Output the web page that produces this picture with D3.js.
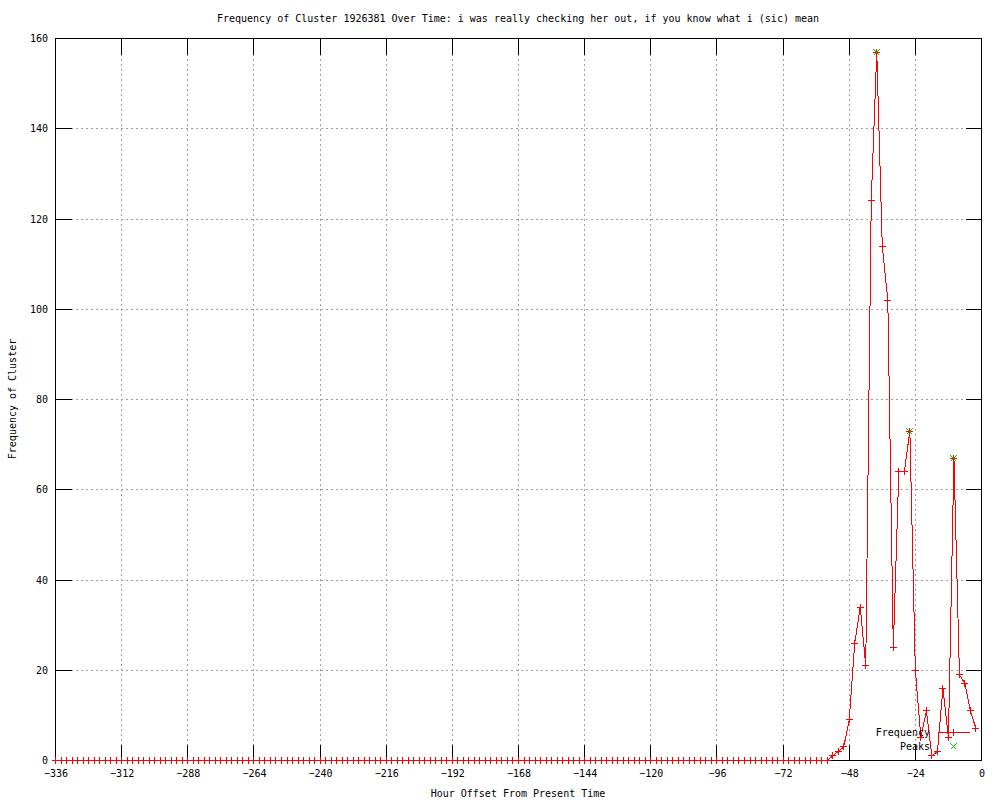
<!DOCTYPE html>
<html>
<head>
<meta charset="utf-8">
<script src="https://cdn.jsdelivr.net/npm/d3@7"></script>
<style>
  body { margin: 0; background: #fff; }
  svg { display: block; }
  text { font-family: "DejaVu Sans Mono", monospace; font-size: 10px; fill: #000; }
</style>
</head>
<body>
<div id="chart"></div>
<script>
// Hours (offset from present) and cluster frequency, one point every 2 hours
var hours = [
  -336,-334,-332,-330,-328,-326,-324,-322,-320,-318,-316,-314,-312,-310,-308,-306,-304,-302,-300,-298,
  -296,-294,-292,-290,-288,-286,-284,-282,-280,-278,-276,-274,-272,-270,-268,-266,-264,-262,-260,-258,
  -256,-254,-252,-250,-248,-246,-244,-242,-240,-238,-236,-234,-232,-230,-228,-226,-224,-222,-220,-218,
  -216,-214,-212,-210,-208,-206,-204,-202,-200,-198,-196,-194,-192,-190,-188,-186,-184,-182,-180,-178,
  -176,-174,-172,-170,-168,-166,-164,-162,-160,-158,-156,-154,-152,-150,-148,-146,-144,-142,-140,-138,
  -136,-134,-132,-130,-128,-126,-124,-122,-120,-118,-116,-114,-112,-110,-108,-106,-104,-102,-100,-98,
  -96,-94,-92,-90,-88,-86,-84,-82,-80,-78,-76,-74,-72,-70,-68,-66,-64,-62,-60,-58,
  -56,-54,-52,-50,-48,-46,-44,-42,-40,-38,-36,-34,-32,-30,-28,-26,-24,-22,-20,-18,
  -16,-14,-12,-10,-8,-6,-4,-2
];
var frequency = [
  0,0,0,0,0,0,0,0,0,0,0,0,0,0,0,0,0,0,0,0,
  0,0,0,0,0,0,0,0,0,0,0,0,0,0,0,0,0,0,0,0,
  0,0,0,0,0,0,0,0,0,0,0,0,0,0,0,0,0,0,0,0,
  0,0,0,0,0,0,0,0,0,0,0,0,0,0,0,0,0,0,0,0,
  0,0,0,0,0,0,0,0,0,0,0,0,0,0,0,0,0,0,0,0,
  0,0,0,0,0,0,0,0,0,0,0,0,0,0,0,0,0,0,0,0,
  0,0,0,0,0,0,0,0,0,0,0,0,0,0,0,0,0,0,0,0,
  0,1,2,3,9,26,34,21,124,157,114,102,25,64,64,73,20,5,11,1,
  2,16,5,67,19,17,11,7
];

// Detected peaks
var peakHours = [-38, -26, -10];
var peakValues = [157, 73, 67];

// Tick values
var xTicks = [-336,-312,-288,-264,-240,-216,-192,-168,-144,-120,-96,-72,-48,-24,0];
var yTicks = [0,20,40,60,80,100,120,140,160];

var W = 1000, H = 800;
var plotLeft = 55, plotRight = 981, plotTop = 38, plotBottom = 760;
var tickLen = 16;

var x = d3.scaleLinear().domain([-336, 0]).range([plotLeft, plotRight]);
var y = d3.scaleLinear().domain([0, 160]).range([plotBottom, plotTop]);

var svg = d3.select("#chart").append("svg")
    .attr("width", W)
    .attr("height", H);

var g = svg.append("g")
    .attr("transform", "translate(0.5,0.5)")
    .attr("shape-rendering", "crispEdges");

// Grid
g.selectAll(".gx")
    .data(xTicks.slice(1, -1))
  .enter().append("line")
    .attr("x1", function(d) { return Math.round(x(d)); })
    .attr("x2", function(d) { return Math.round(x(d)); })
    .attr("y1", plotTop).attr("y2", plotBottom)
    .attr("stroke", "#a0a0a0")
    .attr("stroke-dasharray", "2,3");

g.selectAll(".gy")
    .data(yTicks.slice(1, -1))
  .enter().append("line")
    .attr("x1", plotLeft).attr("x2", plotRight)
    .attr("y1", function(d) { return Math.round(y(d)); })
    .attr("y2", function(d) { return Math.round(y(d)); })
    .attr("stroke", "#a0a0a0")
    .attr("stroke-dasharray", "2,3");

// Tick marks, mirrored on all four sides
xTicks.forEach(function(d) {
  var px = Math.round(x(d));
  g.append("line").attr("x1", px).attr("x2", px).attr("y1", plotBottom).attr("y2", plotBottom - tickLen).attr("stroke", "#000");
  g.append("line").attr("x1", px).attr("x2", px).attr("y1", plotTop).attr("y2", plotTop + tickLen).attr("stroke", "#000");
});
yTicks.forEach(function(d) {
  var py = Math.round(y(d));
  g.append("line").attr("x1", plotLeft).attr("x2", plotLeft + tickLen).attr("y1", py).attr("y2", py).attr("stroke", "#000");
  g.append("line").attr("x1", plotRight - tickLen).attr("x2", plotRight).attr("y1", py).attr("y2", py).attr("stroke", "#000");
});

// Frame
g.append("rect")
    .attr("x", plotLeft).attr("y", plotTop)
    .attr("width", plotRight - plotLeft).attr("height", plotBottom - plotTop)
    .attr("fill", "none")
    .attr("stroke", "#000");

// Tick labels
svg.selectAll(".xl")
    .data(xTicks)
  .enter().append("text")
    .attr("x", function(d) { return x(d) + 1; })
    .attr("y", 777)
    .style("text-anchor", "middle")
    .text(function(d) { return d === 0 ? "0" : "\u2212" + Math.abs(d); });

svg.selectAll(".yl")
    .data(yTicks)
  .enter().append("text")
    .attr("x", 48)
    .attr("y", function(d) { return y(d) + 4; })
    .style("text-anchor", "end")
    .text(function(d) { return d; });

// Data line
var pts = hours.map(function(h, i) { return [h, frequency[i]]; });
var line = d3.line()
    .x(function(d) { return x(d[0]); })
    .y(function(d) { return y(d[1]); });

g.append("path")
    .datum(pts)
    .attr("d", line)
    .attr("fill", "none")
    .attr("stroke", "#ff0000")
    .attr("stroke-width", 1);

function plus(sel, cx, cy, r) {
  sel.append("path")
      .attr("d", "M" + (cx - r) + "," + cy + "H" + (cx + r) + "M" + cx + "," + (cy - r) + "V" + (cy + r))
      .attr("stroke", "#ff0000").attr("fill", "none");
}
function cross(sel, cx, cy, r) {
  sel.append("path")
      .attr("d", "M" + (cx - r) + "," + (cy - r) + "L" + (cx + r) + "," + (cy + r) +
                 "M" + (cx - r) + "," + (cy + r) + "L" + (cx + r) + "," + (cy - r))
      .attr("stroke", "#00c000").attr("fill", "none");
}

pts.forEach(function(d) {
  plus(g, Math.round(x(d[0])), Math.round(y(d[1])), 3.5);
});

// Peak markers
peakHours.forEach(function(h, i) {
  cross(g, Math.round(x(h)), Math.round(y(peakValues[i])), 3);
});

// Legend
svg.append("text").attr("x", 930).attr("y", 736).style("text-anchor", "end").text("Frequency");
svg.append("text").attr("x", 930).attr("y", 750).style("text-anchor", "end").text("Peaks");
g.append("line").attr("x1", 937).attr("x2", 969).attr("y1", 732).attr("y2", 732).attr("stroke", "#ff0000");
plus(g, 953, 732, 3.5);
cross(g, 953, 746, 3);

// Title and axis labels
svg.append("text")
    .attr("x", 518).attr("y", 22)
    .style("text-anchor", "middle")
    .text("Frequency of Cluster 1926381 Over Time: i was really checking her out, if you know what i (sic) mean");

svg.append("text")
    .attr("x", 518).attr("y", 797)
    .style("text-anchor", "middle")
    .text("Hour Offset From Present Time");

svg.append("text")
    .attr("transform", "translate(16,399) rotate(-90)")
    .style("text-anchor", "middle")
    .text("Frequency of Cluster");
</script>
</body>
</html>
